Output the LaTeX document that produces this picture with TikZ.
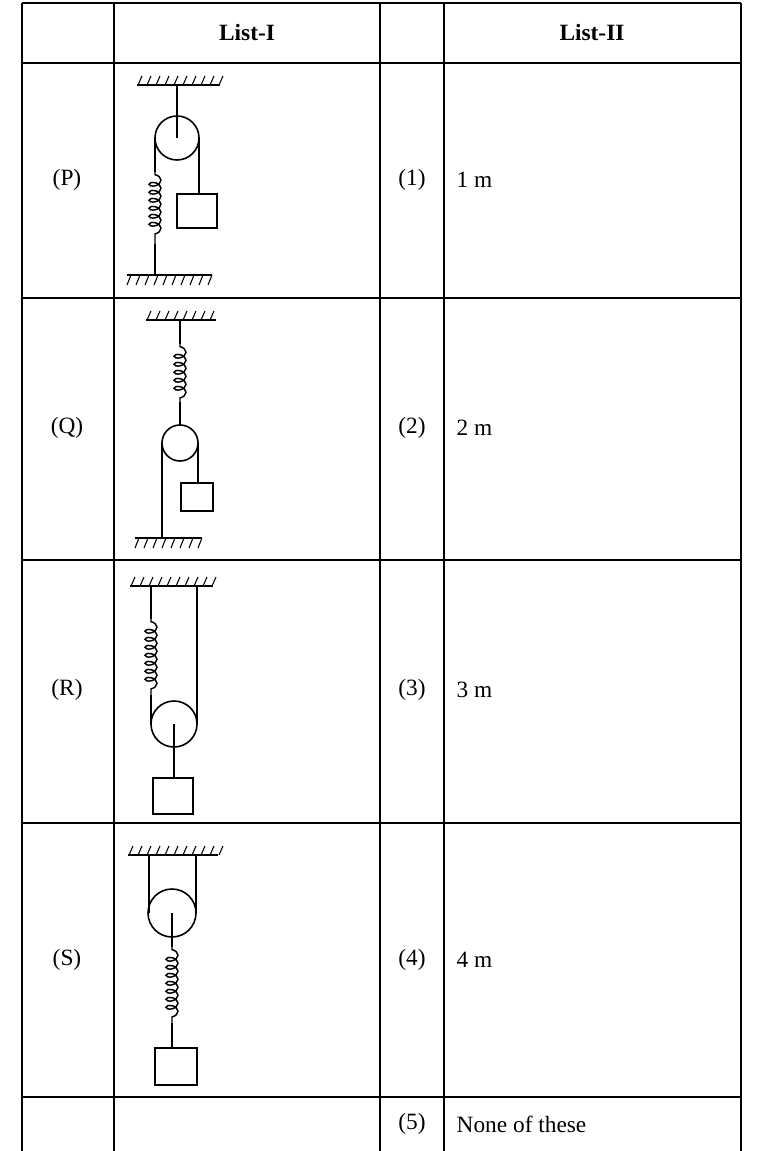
\documentclass[tikz,border=0pt]{standalone}
\usepackage{fontspec}
\setmainfont{Liberation Serif}
\usetikzlibrary{positioning,decorations.pathmorphing}
\newcommand{\ceil}[3]{\draw[wall] (#1,#3) -- (#2,#3);
  \pgfmathsetmacro{\hn}{int((#2-#1)/9)}
  \foreach \k in {0,...,\hn}{\draw[hatch] (#1+\k*9+1,#3) -- ++(4,-9);}}
\newcommand{\flr}[3]{\draw[wall] (#1,#3) -- (#2,#3);
  \pgfmathsetmacro{\hn}{int((#2-#1)/9)}
  \foreach \k in {0,...,\hn}{\draw[hatch] (#1+\k*9+4,#3) -- ++(-4,10);}}
\begin{document}
\begin{tikzpicture}[x=0.75pt,y=-0.75pt]
\tikzstyle{grid}=[line width=1.6pt]
\tikzstyle{wall}=[line width=1.2pt]
\tikzstyle{hatch}=[line width=0.8pt]
\tikzstyle{rope}=[line width=0.9pt]
\tikzstyle{pulley}=[line width=1.2pt]
\tikzstyle{block}=[line width=1.2pt]
\tikzstyle{spring}=[line width=1.1pt, decorate, decoration={coil, aspect=0.6, amplitude=4.5pt, segment length=6pt, pre length=2pt, post length=2pt}]
\tikzstyle{txt}=[font=\fontsize{17.5}{20}\selectfont]
\tikzstyle{head}=[font=\fontsize{17.5}{20}\selectfont\bfseries]
\useasboundingbox (0,0) rectangle (760,1151);
% table
\draw[grid] (22,3) -- (741,3);
\foreach \ry in {63,298,560,823,1097}{\draw[grid] (22,\ry) -- (741,\ry);}
\foreach \cx in {22,114,380,444,741}{\draw[grid] (\cx,3) -- (\cx,1151);}
\node[head] (h1) at (247,33) {List-I};
\node[head] (h2) at (592,33) {List-II};
\foreach \lab/\num/\val/\ry in {P/1/1 m/180, Q/2/2 m/428, R/3/3 m/690, S/4/4 m/960}{
  \node[txt] (l\lab) at (67,\ry) {(\lab)};
  \node[txt] (n\num) at (412,\ry) {(\num)};
  \node[txt, anchor=west] (v\num) at (452,\ry) {\val};
}
\node[txt] (n5) at (412,1124) {(5)};
\node[txt, anchor=west] (v5) at (452,1124) {None of these};
% (P)
\ceil{137}{220}{85}
\flr{127}{212}{275}
\draw[rope] (177,85) -- (177,138);
\draw[pulley] (177,138) circle (22);
\draw[rope] (155,138) -- (155,172);
\draw[spring] (155,172) -- (155,244);
\draw[rope] (155,244) -- (155,275);
\draw[rope] (199,138) -- (199,194);
\draw[block] (177,194) rectangle (217,228);
% (Q)
\ceil{146}{216}{320}
\flr{135}{202}{538}
\draw[rope] (180,320) -- (180,344);
\draw[spring] (180,344) -- (180,402);
\draw[rope] (180,402) -- (180,425);
\draw[pulley] (180,443) circle (18);
\draw[rope] (162,443) -- (162,538);
\draw[rope] (198,443) -- (198,483);
\draw[block] (181,483) rectangle (213,511);
% (R)
\ceil{130}{213}{586}
\draw[rope] (151,586) -- (151,619);
\draw[spring] (151,619) -- (151,695);
\draw[rope] (151,695) -- (151,724);
\draw[rope] (197,586) -- (197,724);
\draw[pulley] (174,724) circle (23);
\draw[rope] (174,724) -- (174,778);
\draw[block] (153,778) rectangle (193,814);
% (S)
\ceil{128}{218}{855}
\draw[rope] (149,855) -- (149,913);
\draw[rope] (196,855) -- (196,913);
\draw[pulley] (172,913) circle (24);
\draw[rope] (172,913) -- (172,947);
\draw[spring] (172,947) -- (172,1023);
\draw[rope] (172,1023) -- (172,1048);
\draw[block] (155,1048) rectangle (197,1085);
\end{tikzpicture}
\end{document}
